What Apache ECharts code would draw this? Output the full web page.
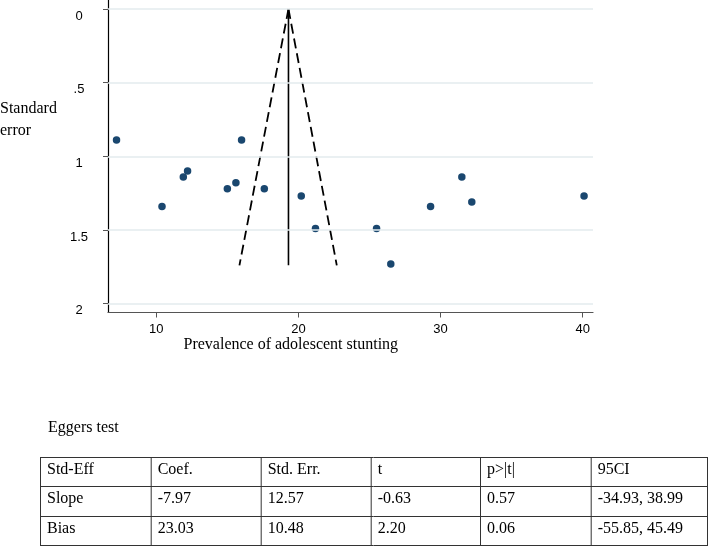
<!DOCTYPE html>
<html>
<head>
<meta charset="utf-8">
<script src="https://cdn.jsdelivr.net/npm/echarts@6/dist/echarts.min.js"></script>
<style>
html,body{margin:0;padding:0;background:#fff;}
#c{width:709px;height:546px;}
</style>
</head>
<body>
<div id="c"></div>
<script>
// ---- data ----
const prevalence = [7.2, 10.4, 11.9, 12.2, 15.0, 15.6, 16.0, 17.6, 20.2, 21.2, 25.5, 26.5, 29.3, 31.5, 32.2, 40.1];
const stdError   = [0.89, 1.34, 1.14, 1.10, 1.22, 1.18, 0.89, 1.22, 1.27, 1.49, 1.49, 1.73, 1.34, 1.14, 1.31, 1.27];
const pooled = 19.3;
const funnelSE = [0, 1.74];
const funnelLowerX = [19.3, 15.85];
const funnelUpperX = [19.3, 22.7];
const xTicks = [10, 20, 30, 40];
const yTicks = [0, 0.5, 1, 1.5, 2];
const yTickLabels = ['0', '.5', '1', '1.5', '2'];
const yTitle = 'Standard\nerror';
const xTitle = 'Prevalence of adolescent stunting';
const tableTitle = 'Eggers test';
const tableHeader = ['Std-Eff', 'Coef.', 'Std. Err.', 't', 'p>|t|', '95CI'];
const tableRowSlope = ['Slope', '-7.97', '12.57', '-0.63', '0.57', '-34.93, 38.99'];
const tableRowBias  = ['Bias', '23.03', '10.48', '2.20', '0.06', '-55.85, 45.49'];

// ---- layout ----
const SERIF = '"Liberation Serif", "Times New Roman", serif';
const SANS = '"Liberation Sans", Arial, sans-serif';
const colX = [40, 150.7, 260.7, 370.7, 480, 590.7, 707];
const rowY = [457, 486, 516, 545];

const chart = echarts.init(document.getElementById('c'), null, {renderer: 'canvas'});

const tableRows = [tableHeader, tableRowSlope, tableRowBias];
const graphics = [];
graphics.push({type: 'text', left: 0, top: 98, style: {text: yTitle, font: '16px ' + SERIF, lineHeight: 22, fill: '#000'}});
graphics.push({type: 'text', x: 183.5, y: 345, style: {text: xTitle, font: '16px ' + SERIF, fill: '#000', verticalAlign: 'middle', align: 'left'}});
graphics.push({type: 'text', x: 48, y: 428, style: {text: tableTitle, font: '16px ' + SERIF, fill: '#000', verticalAlign: 'middle'}});
rowY.forEach(function (y) {
  graphics.push({type: 'line', shape: {x1: colX[0], y1: y + 0.5, x2: colX[colX.length - 1], y2: y + 0.5}, style: {stroke: '#333', lineWidth: 1}});
});
colX.forEach(function (x) {
  graphics.push({type: 'line', shape: {x1: x + 0.5, y1: rowY[0], x2: x + 0.5, y2: rowY[rowY.length - 1] + 1}, style: {stroke: '#333', lineWidth: 1}});
});
tableRows.forEach(function (row, r) {
  row.forEach(function (cell, c) {
    graphics.push({type: 'text', x: colX[c] + 7, y: rowY[r] + 13, style: {text: cell, font: '16px ' + SERIF, fill: '#000', verticalAlign: 'middle', align: 'left'}});
  });
});

const option = {
  animation: false,
  backgroundColor: '#fff',
  grid: {left: 108, right: 116, top: 0, bottom: 233.5, containLabel: false, outerBoundsMode: 'none'},
  xAxis: {
    type: 'value',
    min: 6.6,
    max: 40.73,
    axisLine: {show: true, onZero: false, lineStyle: {color: '#555', width: 1.2}},
    axisTick: {show: true, length: 5, customValues: xTicks, lineStyle: {color: '#555'}},
    axisLabel: {customValues: xTicks, margin: 10, color: '#000', fontFamily: SANS, fontSize: 13},
    splitLine: {show: false}
  },
  yAxis: {
    type: 'value',
    inverse: true,
    min: -0.061,
    max: 2.06,
    axisLine: {show: true, onZero: false, lineStyle: {color: '#000', width: 1.2}},
    axisTick: {show: true, length: 5, customValues: yTicks, lineStyle: {color: '#555'}},
    axisLabel: {
      customValues: yTicks,
      margin: 29,
      align: 'center',
      verticalAlign: 'top',
      lineHeight: 14,
      color: '#000', fontFamily: SANS, fontSize: 13,
      formatter: function (v) { const i = yTicks.indexOf(v); return i >= 0 ? yTickLabels[i] : ''; }
    },
    splitLine: {show: false}
  },
  graphic: graphics,
  series: [
    {
      type: 'line', data: [], silent: true, z: 1,
      markLine: {
        silent: true, symbol: 'none', label: {show: false},
        lineStyle: {color: '#e3ebee', width: 1.5, type: 'solid'},
        data: yTicks.map(function (v) { return {yAxis: v}; })
      }
    },
    {
      type: 'line', showSymbol: false, silent: true, z: 3,
      lineStyle: {color: '#000', width: 1.8, type: [10, 5]},
      data: funnelSE.map(function (s, i) { return [funnelLowerX[i], s]; })
    },
    {
      type: 'line', showSymbol: false, silent: true, z: 3,
      lineStyle: {color: '#000', width: 1.8, type: [10, 5]},
      data: funnelSE.map(function (s, i) { return [funnelUpperX[i], s]; })
    },
    {
      type: 'line', showSymbol: false, silent: true, z: 3,
      lineStyle: {color: '#000', width: 1.6, type: 'solid'},
      data: funnelSE.map(function (s) { return [pooled, s]; })
    },
    {
      type: 'scatter', symbol: 'circle', symbolSize: 7.5, z: 4,
      itemStyle: {color: '#1a476f', opacity: 1},
      data: prevalence.map(function (x, i) { return [x, stdError[i]]; })
    }
  ]
};
chart.setOption(option);
</script>
</body>
</html>
